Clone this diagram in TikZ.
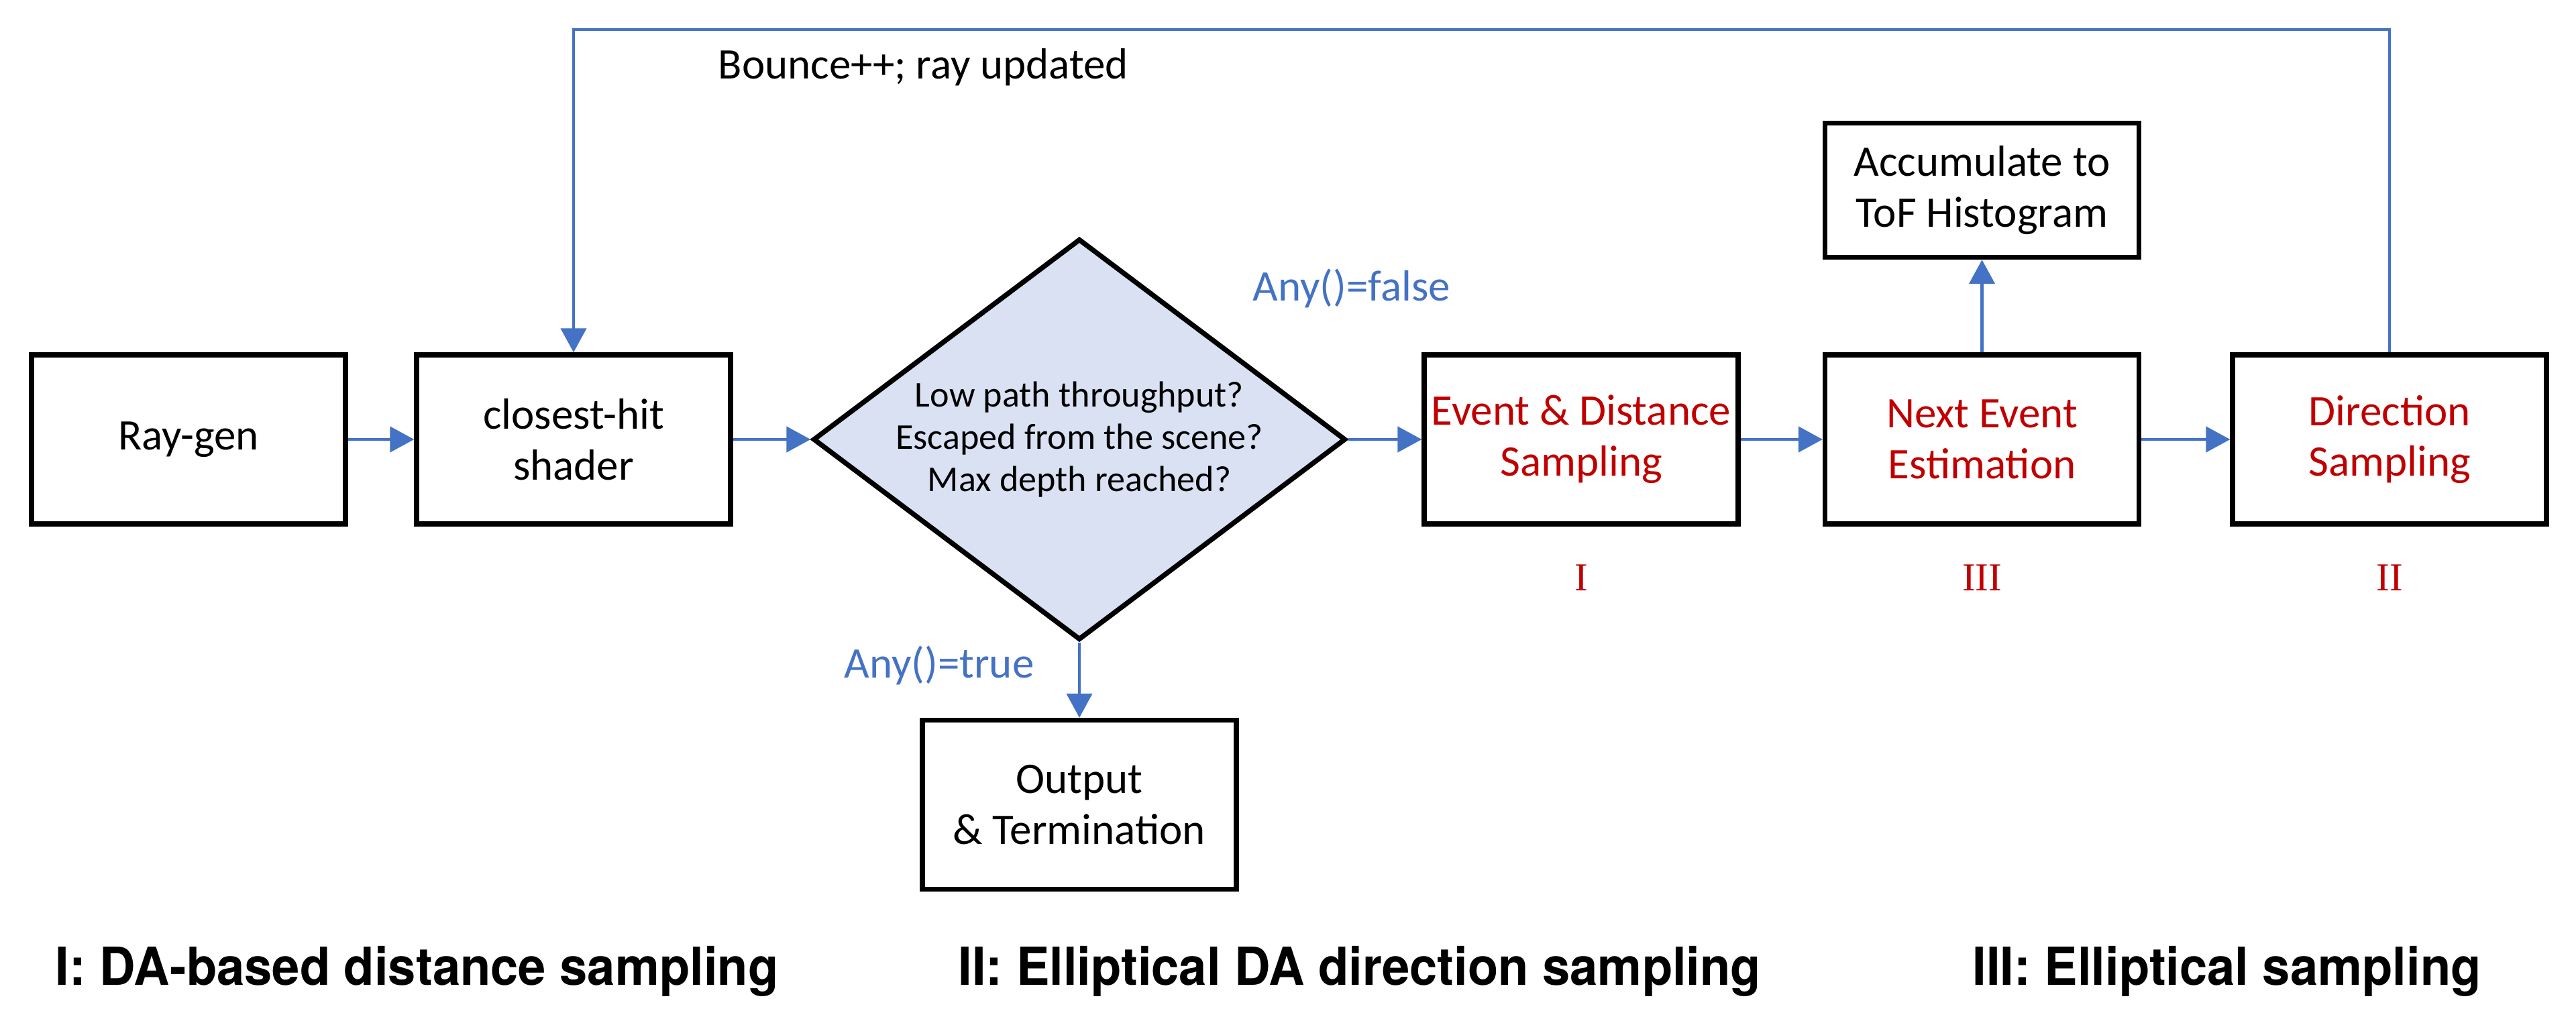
\documentclass[tikz,border=0pt]{standalone}
\usepackage{fontspec}
\setmainfont{Carlito}
\newfontfamily\capfont[FakeStretch=0.95]{TeX Gyre Heros}
\newfontfamily\numfont{Liberation Serif}
\usepackage{tikz}
\usetikzlibrary{arrows.meta, positioning, calc, shapes.geometric}
\definecolor{flowblue}{HTML}{4472C4}
\definecolor{stagered}{HTML}{C00000}
\definecolor{testfill}{HTML}{DAE1F3}
\newcommand{\boxfont}{\fontsize{18.5pt}{21.5pt}\selectfont}
\newcommand{\testfont}{\fontsize{15.4pt}{17.9pt}\selectfont}
\tikzset{
  blk/.style={draw, line width=2.1pt, minimum width=4.68cm, minimum height=2.52cm,
    inner sep=0pt, align=center, font=\boxfont},
  redtxt/.style={text=stagered},
  flow/.style={draw=flowblue, line width=1.3pt, -{Triangle[length=0.36cm, width=0.38cm]}},
  flowlbl/.style={text=flowblue, font=\boxfont, inner sep=0pt},
  numlbl/.style={text=stagered, font=\numfont\fontsize{16.8pt}{18pt}\selectfont, inner sep=0pt},
  caption/.style={font=\capfont\bfseries\fontsize{22.2pt}{26pt}\selectfont, inner sep=0pt, anchor=base west}
}

\begin{document}
\begin{tikzpicture}
  \useasboundingbox (0,0) rectangle (38.4,15.12);
  % main row
  \node[blk] (raygen) at (2.81,8.57) {Ray-gen};
  \node[blk] (hit) at (8.55,8.57) {closest-hit\\shader};
  \node[draw, diamond, fill=testfill, line width=2.1pt, minimum width=7.94cm, minimum height=5.98cm,
    shape aspect=1.33, inner sep=0pt, align=center, font=\testfont] (check) at (16.09,8.57)
    {Low path throughput?\\Escaped from the scene?\\Max depth reached?};
  \node[blk, redtxt] (event) at (23.57,8.57) {Event \& Distance\\Sampling};
  \node[blk, redtxt] (nee) at (29.545,8.57) {Next Event\\Estimation};
  \node[blk, redtxt] (dir) at (35.62,8.57) {Direction\\Sampling};
  \node[blk, minimum height=2.0cm] (acc) at (29.545,12.285) {Accumulate to\\ToF Histogram};
  \node[blk] (output) at (16.09,3.125) {Output\\\& Termination};

  % stage numbers
  \node[numlbl, anchor=base] (eventnum) at (23.57,6.32) {I};
  \node[numlbl, anchor=base] (neenum) at (29.545,6.32) {III};
  \node[numlbl, anchor=base] (dirnum) at (35.62,6.32) {II};

  % connectors
  \draw[flow] (raygen) -- (hit);
  \draw[flow] (hit) -- (check);
  \draw[flow] (check) -- (event);
  \draw[flow] (event) -- (nee);
  \draw[flow] (nee) -- (dir);
  \draw[flow] (nee) -- (acc);
  \draw[flow] (check) -- (output);
  \coordinate (looptop) at (0,14.68);
  \draw[flow] (dir.north) -- (dir.north |- looptop) -| (hit.north);

  \node[anchor=base west, inner sep=0pt, font=\boxfont] (bouncelbl) at (10.70,13.94) {Bounce++; ray updated};
  \node[flowlbl, anchor=base] (falselbl) at (20.15,10.63) {Any()=false};
  \node[flowlbl, anchor=base] (truelbl) at (14.00,5.02) {Any()=true};

  % legend
  \node[caption] (capone) at (0.82,0.44) {I: DA-based distance sampling};
  \node[caption] (captwo) at (14.28,0.44) {II: Elliptical DA direction sampling};
  \node[caption] (capthree) at (29.40,0.44) {III: Elliptical sampling};
\end{tikzpicture}
\end{document}
